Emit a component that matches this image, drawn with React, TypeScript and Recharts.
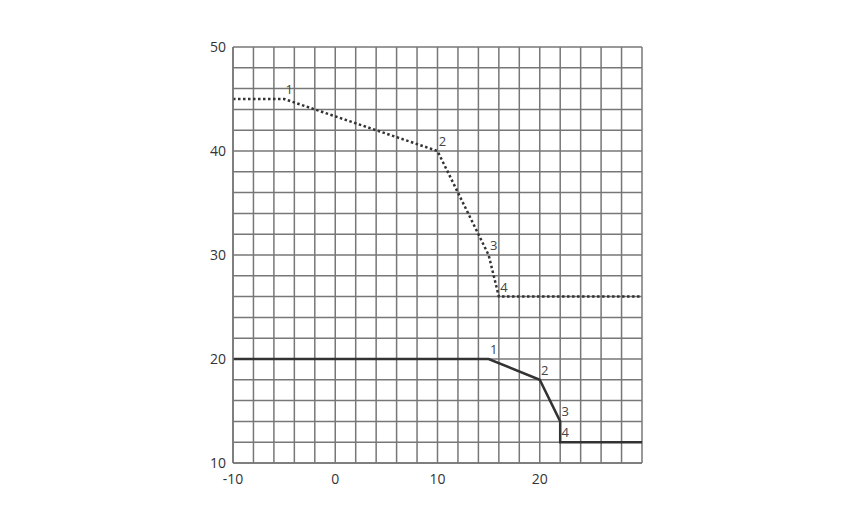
import React from 'react';
import {
  LineChart,
  Line,
  XAxis,
  YAxis,
  CartesianGrid,
  LabelList,
} from 'recharts';

// dotted (upper) curve
const dottedX = [-10, -5, 10, 15, 16, 30];
const dottedY = [45, 45, 40, 30, 26, 26];
const dottedLabels = ['', '1', '2', '3', '4', ''];

// solid (lower) curve
const solidX = [-10, 15, 20, 22, 22, 30];
const solidY = [20, 20, 18, 14, 12, 12];
const solidLabels = ['', '1', '2', '3', '4', ''];

// grid lines every 2 units, labels only on some
const xTicks = [-10, -8, -6, -4, -2, 0, 2, 4, 6, 8, 10, 12, 14, 16, 18, 20, 22, 24, 26, 28, 30];
const yTicks = [10, 12, 14, 16, 18, 20, 22, 24, 26, 28, 30, 32, 34, 36, 38, 40, 42, 44, 46, 48, 50];
const xTickLabels = [-10, 0, 10, 20];
const yTickLabels = [10, 20, 30, 40, 50];

const dotted = dottedX.map((x, i) => ({ x, y: dottedY[i], label: dottedLabels[i] }));
const solid = solidX.map((x, i) => ({ x, y: solidY[i], label: solidLabels[i] }));

const FONT = '"Open Sans", "Noto Sans", sans-serif';

const PointLabel = (props: any) => {
  const { x, y, value } = props;
  if (!value) return null;
  return (
    <text x={x + 5} y={y - 5} textAnchor="middle" fontSize={13} fill="#444" fontFamily={FONT}>
      {value}
    </text>
  );
};

const App: React.FC = () => {
  return (
    <div style={{ position: 'absolute', left: 0, top: 0, width: 850, height: 512, background: '#fff' }}>
      <LineChart
        width={850}
        height={512}
        margin={{ top: 47, right: 208, left: 193, bottom: 19 }}
      >
        <CartesianGrid stroke="#777" strokeWidth={1.5} />
        <XAxis
          type="number"
          dataKey="x"
          domain={[-10, 30]}
          ticks={xTicks}
          interval={0}
          height={30}
          tickLine={false}
          axisLine={{ stroke: '#777', strokeWidth: 1.5 }}
          tick={{ fontSize: 14, fill: '#333', fontFamily: FONT }}
          tickMargin={5}
          tickFormatter={(v: number) => (xTickLabels.includes(v) ? String(v) : '')}
        />
        <YAxis
          type="number"
          dataKey="y"
          domain={[10, 50]}
          ticks={yTicks}
          interval={0}
          width={40}
          tickLine={false}
          axisLine={{ stroke: '#777', strokeWidth: 1.5 }}
          tick={{ fontSize: 14, fill: '#333', fontFamily: FONT }}
          tickMargin={1}
          tickFormatter={(v: number) => (yTickLabels.includes(v) ? String(v) : '')}
        />
        <Line
          data={dotted}
          dataKey="y"
          type="linear"
          stroke="#333"
          strokeWidth={2.5}
          strokeDasharray="2.5 2.5"
          dot={false}
          isAnimationActive={false}
        >
          <LabelList dataKey="label" content={PointLabel} />
        </Line>
        <Line
          data={solid}
          dataKey="y"
          type="linear"
          stroke="#333"
          strokeWidth={2.5}
          dot={false}
          isAnimationActive={false}
        >
          <LabelList dataKey="label" content={PointLabel} />
        </Line>
      </LineChart>
    </div>
  );
};

export default App;
